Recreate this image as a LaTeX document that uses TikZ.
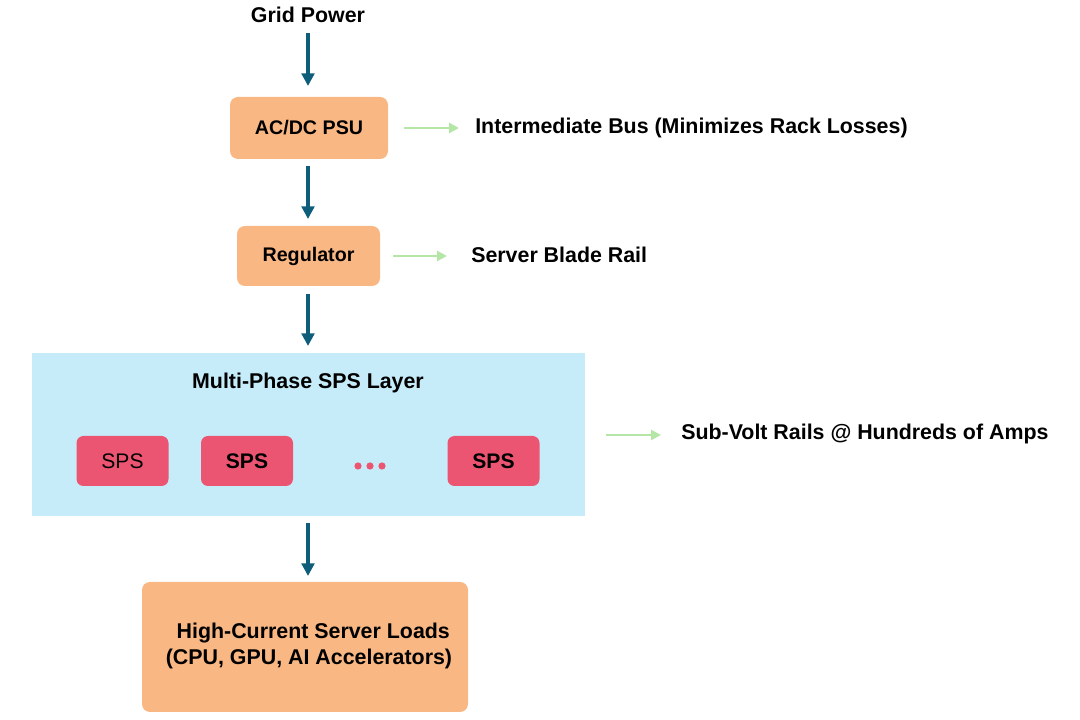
\documentclass[tikz,border=0pt]{standalone}
\usepackage{fontspec}
\setmainfont{Liberation Sans}
\usetikzlibrary{arrows.meta}

\definecolor{psuorange}{HTML}{F9B784}
\definecolor{layerblue}{HTML}{C6ECFA}
\definecolor{spspink}{HTML}{EC5571}
\definecolor{flowteal}{HTML}{0E5E7B}
\definecolor{railgreen}{HTML}{B4E6A6}

\tikzset{
  stagebox/.style={fill=psuorange, rounded corners=8*0.025cm, font=\fontsize{14}{17}\selectfont\bfseries},
  spsbox/.style={fill=spspink, rounded corners=7*0.025cm, minimum width=92*0.025cm, minimum height=50*0.025cm},
  flow/.style={draw=flowteal, line width=3.1pt, -{Triangle[length=9pt,width=9pt]}},
  rail/.style={draw=railgreen, line width=2.1pt, -{Triangle[length=7pt,width=7pt]}},
  lbl/.style={font=\fontsize{15.2}{18}\selectfont\bfseries, anchor=west, inner sep=0pt}
}

\begin{document}
\begin{tikzpicture}[x=0.025cm, y=-0.025cm, every node/.style={font=\fontsize{15}{18}\selectfont}]
    \useasboundingbox (0,0) rectangle (1080,720);

    % Draw the stages from the grid down to the loads
    \node[font=\fontsize{15.2}{18}\selectfont\bfseries] (grid) at (308,15) {Grid Power};
    \node[stagebox, minimum width=158*0.025cm, minimum height=62*0.025cm] (psu) at (309,128) {AC/DC PSU};
    \node[stagebox, minimum width=143*0.025cm, minimum height=60*0.025cm] (reg) at (308.5,256) {Regulator};
    \fill[layerblue] (32,353) rectangle (585,516);
    \node[font=\fontsize{15.2}{18}\selectfont\bfseries] (layer) at (308,383) {Multi-Phase SPS Layer};
    \node[spsbox] (spsA) at (122.5,461) {SPS};
    \node[spsbox, font=\fontsize{15}{18}\selectfont\bfseries] (spsB) at (247,461) {SPS};
    \node[spsbox, font=\fontsize{15}{18}\selectfont\bfseries] (spsC) at (493.5,461) {SPS};
    \fill[spspink] (358,466) circle (3.6) (370,466) circle (3.6) (382,466) circle (3.6);
    \node[stagebox, minimum width=326*0.025cm, minimum height=130*0.025cm] (loads) at (305,647) {};
    \node[align=center, font=\fontsize{15.2}{18.5}\selectfont\bfseries] (loadtext) at (309,646) {\hspace*{0.4em}High-Current Server Loads\\(CPU, GPU, AI Accelerators)};

    \coordinate (gridout) at (308,33);
    \coordinate (psuin) at (308,86);
    \coordinate (psuout) at (308,166);
    \coordinate (regin) at (308,219);
    \coordinate (regout) at (308,294);
    \coordinate (layerin) at (308,346);
    \coordinate (layerout) at (308,523);
    \coordinate (loadsin) at (308,576);
    \draw[flow] (gridout) -- (psuin);
    \draw[flow] (psuout) -- (regin);
    \draw[flow] (regout) -- (layerin);
    \draw[flow] (layerout) -- (loadsin);

    % Rails on the right
    \node[lbl] (busl) at (475,128) {Intermediate Bus (Minimizes Rack Losses)};
    \node[lbl] (bladel) at (471,255) {Server Blade Rail};
    \node[lbl] (voltl) at (681,434) {Sub-Volt Rails @ Hundreds of Amps};
    \coordinate (busa) at (404,128);
    \coordinate (busb) at (459,128);
    \coordinate (bladea) at (393,256);
    \coordinate (bladeb) at (447,256);
    \coordinate (volta) at (606,435);
    \coordinate (voltb) at (661,435);
    \draw[rail] (busa) -- (busb);
    \draw[rail] (bladea) -- (bladeb);
    \draw[rail] (volta) -- (voltb);
\end{tikzpicture}
\end{document}
